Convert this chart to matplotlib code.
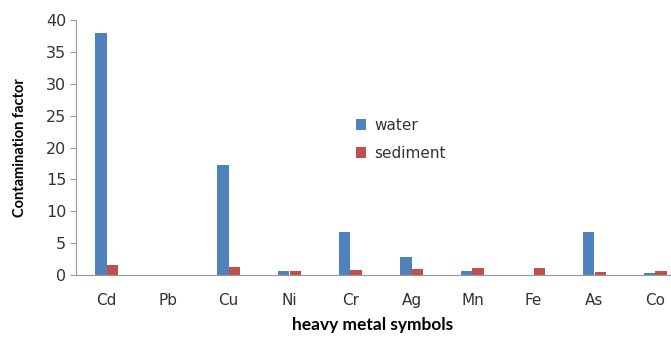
import matplotlib
matplotlib.use("Agg")
import numpy as np
from matplotlib import pyplot as plt

plt.rcParams["font.family"] = ["DejaVu Sans"]

# Contamination factor per heavy metal
metals = ["Cd", "Pb", "Cu", "Ni", "Cr", "Ag", "Mn", "Fe", "As", "Co"]
water = [37.9, 0, 17.3, 0.6, 6.7, 2.9, 0.6, 0, 6.7, 0.3]
sediment = [1.5, 0, 1.2, 0.6, 0.8, 0.9, 1.05, 1.15, 0.4, 0.65]

fig = plt.figure(figsize=(6.71, 3.38), dpi=100)
# axes runs a bit past the right edge of the figure
ax = fig.add_axes([76 / 671, 63 / 338, 610 / 671, 255 / 338])

x = np.arange(len(metals))
w = 0.19
ax.bar(x - w / 2, water, w, color="#4F81BD", label="water")
ax.bar(x + w / 2, sediment, w, color="#C0504D", label="sediment")

ax.set_xlim(-0.5, len(metals) - 0.5)
ax.set_ylim(0, 40)
ax.set_yticks(range(0, 41, 5))
ax.set_xticks(x)
ax.set_xticklabels(metals)

for side in ["top", "right"]:
    ax.spines[side].set_visible(False)
ax.spines["left"].set_color("#999999")
ax.spines["bottom"].set_color("#999999")
ax.tick_params(axis="y", length=4, color="#999999", labelsize=11.5,
               labelcolor="#333333", pad=3)
ax.tick_params(axis="x", length=0, labelsize=11, labelcolor="#333333", pad=13)

ax.set_ylabel("Contamination factor", fontsize=10.5, fontweight="bold",
              family=["Lato", "DejaVu Sans"])
ax.yaxis.set_label_coords(-49 / 610, 0.5)
ax.set_xlabel("heavy metal symbols", fontsize=12.5, fontweight="bold",
              family=["Lato", "DejaVu Sans"])
ax.xaxis.set_label_coords((373 - 76) / 610, -42 / 255)

fig.legend(loc="upper left", bbox_to_anchor=(342 / 671, 1 - 104 / 338),
           frameon=False, fontsize=11, handlelength=0.7, handleheight=0.7,
           labelspacing=0.85, handletextpad=0.5, labelcolor="#333333")

fig.savefig("out.png", dpi=100)
